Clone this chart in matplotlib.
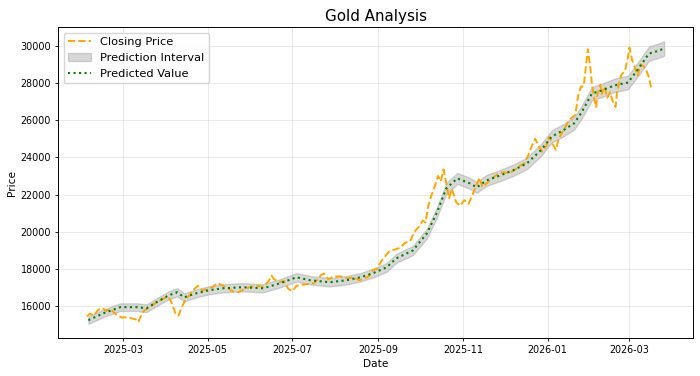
import numpy as np
import pandas as pd
import matplotlib
matplotlib.use("Agg")
from matplotlib import pyplot as plt
import matplotlib.dates as mdates

# closing price
close_dates = [
    "2025-02-03", "2025-02-05", "2025-02-08", "2025-02-11", "2025-02-14", "2025-02-17",
    "2025-02-20", "2025-02-22", "2025-02-25", "2025-02-28", "2025-03-04", "2025-03-07",
    "2025-03-10", "2025-03-12", "2025-03-14", "2025-03-16", "2025-03-20", "2025-03-25",
    "2025-03-30", "2025-04-02", "2025-04-04", "2025-04-07", "2025-04-08", "2025-04-10",
    "2025-04-12", "2025-04-15", "2025-04-18", "2025-04-21", "2025-04-24", "2025-04-27",
    "2025-04-30", "2025-05-05", "2025-05-08", "2025-05-12", "2025-05-16", "2025-05-19",
    "2025-05-23", "2025-05-27", "2025-06-01", "2025-06-05", "2025-06-10", "2025-06-14",
    "2025-06-16", "2025-06-18", "2025-06-22", "2025-06-25", "2025-06-28", "2025-07-01",
    "2025-07-04", "2025-07-08", "2025-07-13", "2025-07-17", "2025-07-22", "2025-07-24",
    "2025-07-27", "2025-07-31", "2025-08-05", "2025-08-10", "2025-08-14", "2025-08-18",
    "2025-08-21", "2025-08-25", "2025-08-28", "2025-08-31", "2025-09-03", "2025-09-06",
    "2025-09-09", "2025-09-13", "2025-09-17", "2025-09-20", "2025-09-24", "2025-09-27",
    "2025-09-30", "2025-10-03", "2025-10-05", "2025-10-07", "2025-10-09", "2025-10-12",
    "2025-10-14", "2025-10-16", "2025-10-18", "2025-10-20", "2025-10-22", "2025-10-24",
    "2025-10-27", "2025-10-30", "2025-11-02", "2025-11-05", "2025-11-08", "2025-11-10",
    "2025-11-13", "2025-11-15", "2025-11-18", "2025-11-21", "2025-11-26", "2025-11-30",
    "2025-12-04", "2025-12-08", "2025-12-12", "2025-12-15", "2025-12-18", "2025-12-20",
    "2025-12-23", "2025-12-25", "2025-12-28", "2025-12-31", "2026-01-02", "2026-01-04",
    "2026-01-07", "2026-01-09", "2026-01-12", "2026-01-15", "2026-01-18", "2026-01-21",
    "2026-01-23", "2026-01-25", "2026-01-27", "2026-01-29", "2026-01-30", "2026-02-01",
    "2026-02-02", "2026-02-04", "2026-02-05", "2026-02-06", "2026-02-08", "2026-02-09",
    "2026-02-11", "2026-02-13", "2026-02-15", "2026-02-17", "2026-02-19", "2026-02-20",
    "2026-02-23", "2026-02-26", "2026-02-28", "2026-03-01", "2026-03-03", "2026-03-05",
    "2026-03-07", "2026-03-09", "2026-03-11", "2026-03-13", "2026-03-15", "2026-03-17",
]
close_vals = [
    15450, 15600, 15500, 15800, 15900, 15750,
    15850, 15700, 15500, 15400, 15400, 15350,
    15300, 15150, 15500, 15750, 15950, 16200,
    16400, 16500, 16350, 15800, 15550, 15500,
    15900, 16350, 16600, 16900, 17100, 16850,
    16900, 17050, 17250, 17100, 16950, 16800,
    16750, 16900, 17050, 17100, 17050, 17350,
    17650, 17450, 17300, 17350, 16950, 16800,
    17100, 17150, 17200, 17250, 17700, 17750,
    17450, 17600, 17600, 17500, 17550, 17400,
    17450, 17600, 17950, 18000, 18400, 18700,
    18950, 19050, 19150, 19400, 19500, 20000,
    20250, 20600, 20500, 21400, 21900, 22500,
    23000, 22700, 23350, 22600, 21800, 22300,
    21600, 21400, 21700, 21500, 22000, 22400,
    22900, 22400, 22600, 22800, 23100, 23200,
    23150, 23300, 23550, 23650, 24100, 24500,
    25000, 24700, 24300, 24600, 25100, 24800,
    24400, 25000, 25400, 25800, 26100, 26300,
    27300, 27800, 27800, 29100, 29800, 28700,
    27900, 27000, 26700, 27400, 27900, 27400,
    27800, 27200, 27500, 27000, 26700, 27500,
    28400, 28700, 29400, 29900, 29200, 28800,
    28400, 29000, 28900, 28700, 28300, 27600,
]

# predicted value
pred_dates = [
    "2025-02-04", "2025-02-15", "2025-02-27", "2025-03-11", "2025-03-18", "2025-03-25",
    "2025-04-03", "2025-04-09", "2025-04-14", "2025-04-23", "2025-05-02", "2025-05-12",
    "2025-05-26", "2025-06-10", "2025-06-22", "2025-07-04", "2025-07-14", "2025-07-28",
    "2025-08-09", "2025-08-19", "2025-08-28", "2025-09-07", "2025-09-14", "2025-09-26",
    "2025-10-06", "2025-10-13", "2025-10-20", "2025-10-28", "2025-11-06", "2025-11-11",
    "2025-11-18", "2025-11-28", "2025-12-07", "2025-12-17", "2025-12-27", "2026-01-04",
    "2026-01-12", "2026-01-20", "2026-01-25", "2026-02-02", "2026-02-09", "2026-02-18",
    "2026-02-28", "2026-03-08", "2026-03-15", "2026-03-22", "2026-03-26",
]
pred_vals = [
    15250, 15625, 15950, 15950, 15890, 16210,
    16590, 16750, 16480, 16700, 16860, 16965,
    17020, 16965, 17230, 17555, 17395, 17290,
    17395, 17555, 17770, 18090, 18575, 19000,
    19915, 20990, 22330, 22870, 22600, 22385,
    22760, 23030, 23300, 23670, 24370, 25120,
    25440, 25820, 26350, 27430, 27590, 27860,
    28020, 28820, 29570, 29730, 29850,
]
interval_pct = 0.013  # half width of prediction interval relative to prediction

cd = pd.to_datetime(close_dates)
pdt = pd.to_datetime(pred_dates)
pv = np.array(pred_vals, dtype=float)

fig = plt.figure(figsize=(7, 3.76), dpi=100)
ax = fig.add_axes([0.083, 0.101, 0.907, 0.827])

ax.plot(cd, close_vals, '--', color='orange', linewidth=1.4, label='Closing Price')
ax.fill_between(pdt, pv * (1 - interval_pct), pv * (1 + interval_pct),
                color='grey', alpha=0.3, label='Prediction Interval')
ax.plot(pdt, pv, ':', color='green', linewidth=1.5, label='Predicted Value')

ax.xaxis.set_major_locator(mdates.MonthLocator(bymonth=[1, 3, 5, 7, 9, 11]))
ax.xaxis.set_major_formatter(mdates.DateFormatter('%Y-%m'))
ax.tick_params(labelsize=6.9, length=2.5, pad=2.5, width=0.6)
for s in ax.spines.values():
    s.set_linewidth(0.7)
ax.grid(True, alpha=0.3, linewidth=0.6)
ax.set_title("Gold Analysis", fontsize=10.9, pad=4.2)
ax.set_xlabel("Date", fontsize=7.6, labelpad=2.8)
ax.set_ylabel("Price", fontsize=7.6, labelpad=2.8)
ax.legend(loc='upper left', fontsize=8.2)

plt.savefig("out.png", dpi=100)
